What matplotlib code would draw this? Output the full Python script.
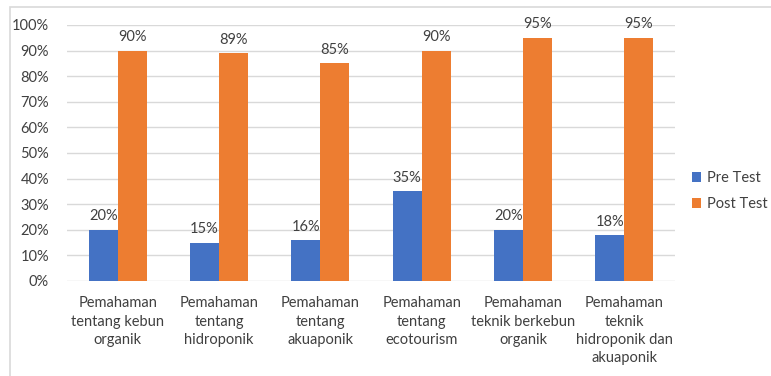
import matplotlib
matplotlib.use("Agg")
import matplotlib.pyplot as plt
import numpy as np
from matplotlib.patches import Rectangle

categories = ["Pemahaman\ntentang kebun\norganik", "Pemahaman\ntentang\nhidroponik",
              "Pemahaman\ntentang\nakuaponik", "Pemahaman\ntentang\necotourism",
              "Pemahaman\nteknik berkebun\norganik", "Pemahaman\nteknik\nhidroponik dan\nakuaponik"]
pre_test = [20, 15, 16, 35, 20, 18]
post_test = [90, 89, 85, 90, 95, 95]
series_names = ["Pre Test", "Post Test"]
yticks = list(range(0, 101, 10))

plt.rcParams['font.family'] = ['Lato', 'DejaVu Sans']
txt = "#404040"
fs = 10.5

fig = plt.figure(figsize=(7.71, 3.76), dpi=100)
fig.patches.append(Rectangle((10/771, -0.1), 1.2, (376-6.5)/376 + 0.1, transform=fig.transFigure,
                             fill=False, edgecolor="#D9D9D9", linewidth=1.2))
ax = fig.add_axes([67/771, 1-281/376, 608/771, 256/376])

x = np.arange(len(categories))
w = 0.286
b1 = ax.bar(x - w/2, pre_test, w, color="#4472C4", label=series_names[0], zorder=3)
b2 = ax.bar(x + w/2, post_test, w, color="#ED7D31", label=series_names[1], zorder=3)
for bars, vals in ((b1, pre_test), (b2, post_test)):
    for r, v in zip(bars, vals):
        ax.text(r.get_x() + r.get_width()/2, v + 2.5, f"{v}%", ha="center", va="bottom",
                fontsize=fs, color=txt)

ax.set_xlim(-0.5, len(categories) - 0.5)
ax.set_ylim(0, 100)
ax.set_yticks(yticks)
ax.set_yticklabels([f"{t}%" for t in yticks], fontsize=fs, color=txt)
ax.set_xticks(x)
ax.set_xticklabels(categories, fontsize=fs, color=txt, linespacing=1.4, va="top")
ax.tick_params(length=0, pad=11)
ax.tick_params(axis="y", pad=13)
ax.grid(axis="y", color="#D9D9D9", linewidth=1, zorder=0)
for s in ax.spines.values():
    s.set_visible(False)

leg = fig.legend(handles=[b1, b2], labels=series_names, loc="center left",
                 bbox_to_anchor=(692/771, 1-191/376), frameon=False, fontsize=fs,
                 handlelength=0.65, handleheight=0.65, handletextpad=0.35, labelspacing=0.8,
                 borderpad=0, borderaxespad=0)
for t in leg.get_texts():
    t.set_color(txt)

fig.savefig("out.png", dpi=100)
